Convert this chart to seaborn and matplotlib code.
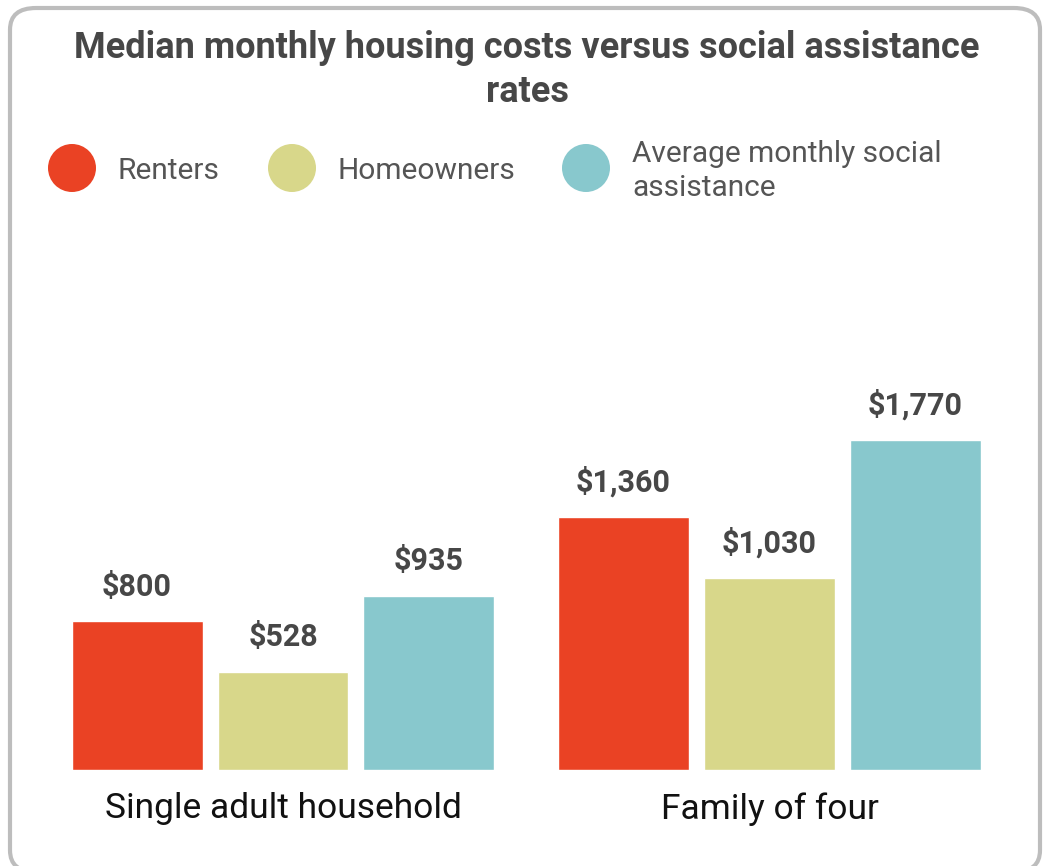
import matplotlib
matplotlib.use("Agg")
import matplotlib.pyplot as plt
from matplotlib.patches import FancyBboxPatch, Ellipse
import seaborn as sns
import pandas as pd

categories = ["Single adult household", "Family of four"]
series = ["Renters", "Homeowners", "Average monthly social assistance"]
renters = [800, 1360]
homeowners = [528, 1030]
assistance = [935, 1770]
colors = ["#EA4224", "#D8D78A", "#88C8CD"]
legend_labels = ["Renters", "Homeowners", "Average monthly social\nassistance"]

rows = []
for s, vals in zip(series, [renters, homeowners, assistance]):
    for c, v in zip(categories, vals):
        rows.append({"category": c, "series": s, "value": v})
df = pd.DataFrame(rows)

sns.set_theme(style="white")
plt.rcParams["font.family"] = ["Roboto", "DejaVu Sans"]

W, H = 1043, 866
fig = plt.figure(figsize=(W / 100, H / 100), dpi=100)

# border (bottom edge runs just past the image)
border = FancyBboxPatch((10 / W, -6 / H), (1040 - 10) / W, (858 + 6) / H,
                        boxstyle="round,pad=0,rounding_size=0.025",
                        transform=fig.transFigure, facecolor="none",
                        edgecolor="#BDBDBD", linewidth=3, zorder=-1)
fig.patches.append(border)

# title
fig.text(527 / W, 1 - 70 / H, "Median monthly housing costs versus social assistance\nrates",
         ha="center", va="center", fontsize=26, fontweight="bold", color="#474747",
         linespacing=1.3)

# legend
lx = [72, 292, 586]
tx = [118, 338, 632]
for x, t, c, lab in zip(lx, tx, colors, legend_labels):
    fig.patches.append(Ellipse((x / W, 1 - 168 / H), 48 / W, 48 / H, transform=fig.transFigure,
                               facecolor=c, edgecolor="none"))
    fig.text(t / W, 1 - 171 / H, lab, ha="left", va="center", fontsize=21.5, color="#555555",
             linespacing=1.25)

# axes: baseline at y=770px, scale 0.18625 px/unit
left_px, right_px = 40, 1010
top_px, base_px = 300, 770
scale = 0.18625
ax = fig.add_axes([left_px / W, 1 - base_px / H, (right_px - left_px) / W, (base_px - top_px) / H])
ax.patch.set_alpha(0)
sns.barplot(data=df, x="category", y="value", hue="series", palette=colors,
            width=0.9, gap=0.103, ax=ax, legend=False, saturation=1, errorbar=None)
unit = 486.5
ax.set_xlim((left_px - 283) / unit, (right_px - 283) / unit)
ax.set_ylim(0, (base_px - top_px) / scale)
for cont in ax.containers:
    ax.bar_label(cont, labels=[f"${v:,.0f}" for v in cont.datavalues], padding=14,
                 fontsize=22, fontweight="bold", color="#474747")
for s in ax.spines.values():
    s.set_visible(False)
ax.set_yticks([])
ax.set_xlabel("")
ax.set_ylabel("")
ax.tick_params(axis="x", length=0, labelsize=25.5, labelcolor="#111111", pad=16)

fig.savefig("out.png", dpi=100)
